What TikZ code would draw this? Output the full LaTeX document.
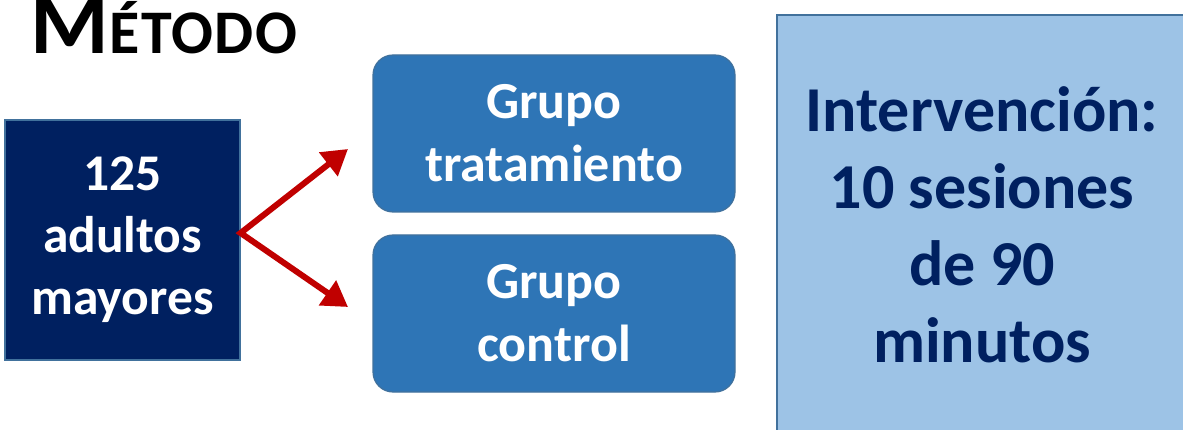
\documentclass[tikz,border=0pt]{standalone}
\usepackage{fontspec}
\setmainfont{Carlito}
\usetikzlibrary{arrows.meta}
\definecolor{navy}{HTML}{002060}
\definecolor{grpblue}{HTML}{2E75B6}
\definecolor{lightblue}{HTML}{9DC3E6}
\definecolor{edgeblue}{HTML}{41719C}
\definecolor{arrred}{HTML}{C00000}
\begin{document}
\begin{tikzpicture}[x=1pt,y=-1pt,
  srcbox/.style={draw=edgeblue,line width=1.2pt,fill=navy,text=white,font=\bfseries\fontsize{51.5}{62}\selectfont,align=center,minimum width=235pt,minimum height=240pt,inner sep=0pt},
  grpbox/.style={draw=edgeblue,line width=1.2pt,fill=grpblue,text=white,rounded corners=20pt,font=\bfseries\fontsize{52}{63}\selectfont,align=center,minimum width=362pt,minimum height=157pt,inner sep=0pt},
  infobox/.style={draw=edgeblue,line width=1.5pt,fill=lightblue,text=navy,font=\bfseries\fontsize{64}{77}\selectfont,align=center,minimum width=410pt,minimum height=420pt,inner sep=0pt},
  fork/.style={draw=arrred,line width=6pt,miter limit=10,{Triangle[length=25pt,width=29pt]}-{Triangle[length=25pt,width=29pt]}}
]
\useasboundingbox (0,0) rectangle (1183,430);
\clip (0,0) rectangle (1183,430);
\node[anchor=base west,inner sep=0pt,font=\bfseries] (title) at (30,54) {\fontsize{90}{90}\selectfont M\kern1pt\fontsize{62}{62}\selectfont\addfontfeature{LetterSpace=2}ÉTODO};
\node[srcbox] (src) at (122.5,240) {125\\adultos\\mayores};
\node[grpbox] (trat) at (554,133.5) {Grupo\\tratamiento};
\node[grpbox] (ctrl) at (554,313.5) {Grupo\\control};
\node[infobox] (info) at (982,225) {Intervención:\\10 sesiones\\de 90\\minutos};
\coordinate (v) at (src.east |- 0,233);
\coordinate (t1) at (348,149);
\coordinate (t2) at (348,307);
\draw[fork] (t1) -- (v) -- (t2);
\end{tikzpicture}
\end{document}
